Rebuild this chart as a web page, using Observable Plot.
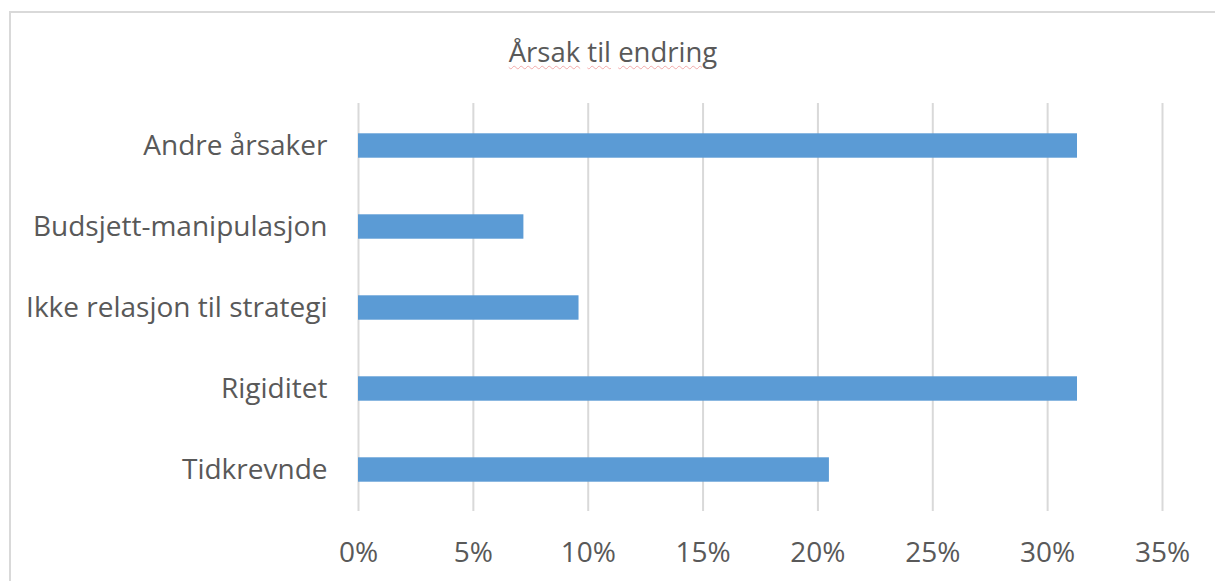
<!DOCTYPE html>
<html>
<head>
<meta charset="utf-8">
<script src="https://cdn.jsdelivr.net/npm/d3@7"></script>
<script src="https://cdn.jsdelivr.net/npm/@observablehq/plot@0.6"></script>
<style>
  html, body { margin: 0; padding: 0; background: #fff; overflow: hidden; }
  body { width: 1215px; height: 581px; position: relative; font-family: 'Open Sans', sans-serif; }
  #frame { position: absolute; left: 9px; top: 11px; width: 1300px; height: 700px; border: 2px solid #d9d9d9; box-sizing: border-box; }
  #title { position: absolute; left: 0; top: 38px; width: 1226px; text-align: center; font-size: 27.5px; line-height: 28px; color: #595959; }
  #title span { text-decoration: underline wavy rgba(235, 110, 110, 0.55); text-decoration-thickness: 1px; text-underline-offset: 3px; }
  #chart { position: absolute; left: 0; top: 0; }
</style>
</head>
<body>
<div id="frame"></div>
<div id="chart"></div>
<div id="title"><span>Årsak</span> <span>til</span> <span>endring</span></div>
<script>
const categories = ["Andre årsaker", "Budsjett-manipulasjon", "Ikke relasjon til strategi", "Rigiditet", "Tidkrevnde"];
const values = [0.313, 0.072, 0.096, 0.313, 0.205];
const xTicks = [0, 0.05, 0.10, 0.15, 0.20, 0.25, 0.30, 0.35];
const xTickLabels = ["0%", "5%", "10%", "15%", "20%", "25%", "30%", "35%"];

const data = categories.map((c, i) => ({category: c, value: values[i]}));

const chart = Plot.plot({
  width: 1215,
  height: 581,
  marginLeft: 358,
  marginRight: 53,
  marginTop: 103,
  marginBottom: 70,
  style: {fontFamily: "'Open Sans', sans-serif", fontSize: "28px", color: "#595959", background: "transparent"},
  x: {domain: [0, 0.35]},
  y: {domain: categories, padding: 0},
  marks: [
    Plot.ruleX(xTicks, {stroke: "#d9d9d9", strokeWidth: 2}),
    Plot.barX(data, {x: "value", y: "category", fill: "#5B9BD5", insetTop: 28.3, insetBottom: 28.3}),
    Plot.axisX({ticks: xTicks, tickFormat: d => xTickLabels[xTicks.indexOf(d)], tickSize: 0, tickPadding: 31, fontSize: 28, label: null}),
    Plot.axisY({tickSize: 0, tickPadding: 31, fontSize: 28, label: null})
  ]
});
document.getElementById("chart").appendChild(chart);
</script>
</body>
</html>
